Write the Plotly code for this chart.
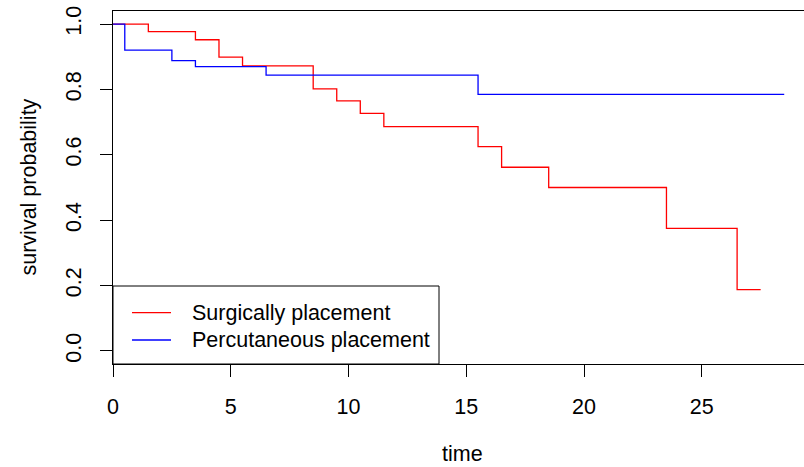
import plotly.graph_objects as go

# Kaplan-Meier step data
red_times = [0, 1.5, 3.5, 4.5, 5.5, 8.5, 9.5, 10.5, 11.5, 15.5, 16.5, 18.5, 23.5, 26.5, 27.5]
red_surv = [1.0, 0.977, 0.952, 0.899, 0.872, 0.802, 0.765, 0.727, 0.686, 0.625, 0.562, 0.500, 0.375, 0.1875, 0.1875]
blue_times = [0, 0.5, 2.5, 3.5, 6.5, 15.5, 28.5]
blue_surv = [1.0, 0.920, 0.888, 0.870, 0.844, 0.785, 0.785]

series_names = ["Surgically placement", "Percutaneous placement"]
series_colors = ["#FF0000", "#0000FF"]

x_ticks = [0, 5, 10, 15, 20, 25]
y_ticks = [0.0, 0.2, 0.4, 0.6, 0.8, 1.0]
y_tick_labels = ["0.0", "0.2", "0.4", "0.6", "0.8", "1.0"]

FONT = "Liberation Sans, Arial, Helvetica, sans-serif"
FS = 21.5

fig = go.Figure()
fig.add_trace(go.Scatter(x=red_times, y=red_surv, mode="lines", line_shape="hv",
                         line=dict(color=series_colors[0], width=1.3),
                         name=series_names[0], showlegend=False))
fig.add_trace(go.Scatter(x=blue_times, y=blue_surv, mode="lines", line_shape="hv",
                         line=dict(color=series_colors[1], width=1.3),
                         name=series_names[1], showlegend=False))

W, H = 804, 467
L, R, T, B = 113, 0, 11, 103
pw, ph = W - L - R, H - T - B

def px(xp):
    return (xp - L) / pw

def py(yp):
    return (H - B - yp) / ph

# legend box (custom, like R's legend())
shapes = [dict(type="rect", xref="paper", yref="paper", x0=0, x1=px(439), y0=0, y1=py(286),
               line=dict(color="black", width=1), fillcolor="white", layer="above")]
annotations = []
leg_y = [312.7, 340]
for name, col, yy in zip(series_names, series_colors, leg_y):
    shapes.append(dict(type="line", xref="paper", yref="paper", x0=px(132), x1=px(171),
                       y0=py(yy), y1=py(yy), line=dict(color=col, width=1.3), layer="above"))
    annotations.append(dict(xref="paper", yref="paper", x=px(190), y=py(yy), text=name,
                            showarrow=False, xanchor="left", yanchor="middle",
                            font=dict(family=FONT, size=FS, color="black")))

annotations.append(dict(xref="paper", yref="paper", x=px(462.5), y=py(454), text="time",
                        showarrow=False, xanchor="center", yanchor="middle",
                        font=dict(family=FONT, size=FS, color="black")))
annotations.append(dict(xref="paper", yref="paper", x=px(28), y=0.5, text="survival probability",
                        textangle=-90, showarrow=False, xanchor="center", yanchor="middle",
                        font=dict(family=FONT, size=FS, color="black")))

fig.update_layout(
    width=W, height=H,
    margin=dict(l=L, r=R, t=T, b=B, pad=0),
    paper_bgcolor="white", plot_bgcolor="white",
    font=dict(family=FONT, size=FS, color="black"),
    shapes=shapes, annotations=annotations,
    showlegend=False,
)
fig.update_xaxes(range=[0, 29.34], tickvals=x_ticks, ticks="outside", ticklen=12, tickwidth=1,
                 tickcolor="black", showline=True, linecolor="black", linewidth=1, mirror=True,
                 showgrid=False, zeroline=False, ticklabelstandoff=11,
                 tickfont=dict(family=FONT, size=FS, color="black"))
fig.update_yaxes(range=[-0.04, 1.04], tickvals=y_ticks, ticktext=y_tick_labels, tickangle=-90,
                 ticks="outside", ticklen=12, tickwidth=1, tickcolor="black",
                 showline=True, linecolor="black", linewidth=1, mirror=False,
                 showgrid=False, zeroline=False, ticklabelstandoff=10,
                 tickfont=dict(family=FONT, size=FS, color="black"))

fig.write_html("out.html", config={"displayModeBar": False})

# remove the browser's default 8px body margin so the figure sits at the page origin
with open("out.html", "r", encoding="utf-8") as f:
    html = f.read()
html = html.replace("<head>", "<head><style>html,body{margin:0;padding:0;overflow:hidden}</style>", 1)
with open("out.html", "w", encoding="utf-8") as f:
    f.write(html)
